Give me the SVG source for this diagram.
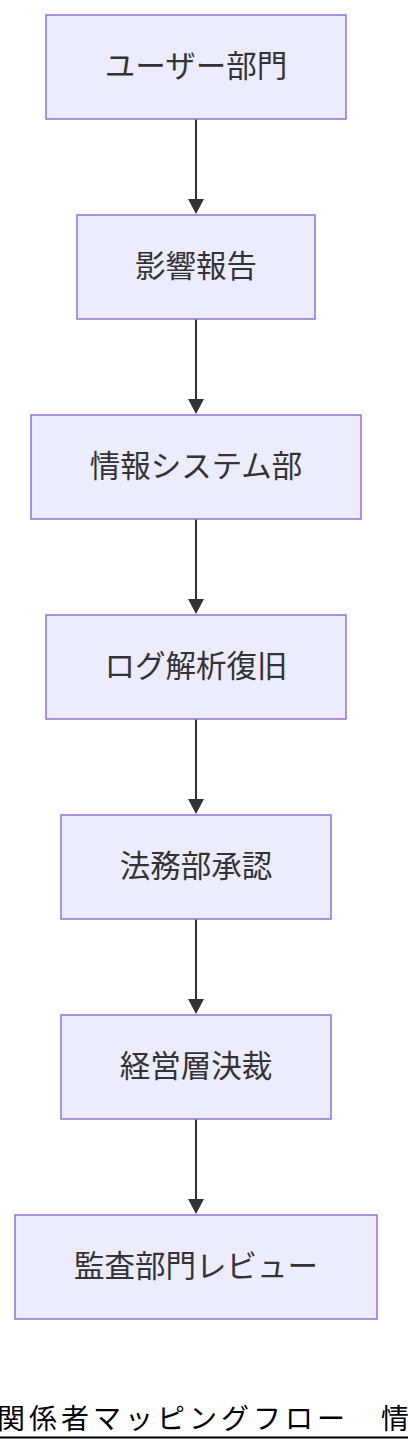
<svg xmlns="http://www.w3.org/2000/svg" width="408" height="1452" viewBox="0 0 408 1452">
<defs>
<style>
.node rect{fill:#ECECFF;stroke:#9370DB;stroke-width:1.5px;}
.node text{font-family:"Noto Sans CJK JP","Noto Sans",sans-serif;font-size:30.5px;fill:#333;text-anchor:middle;}
.edge{stroke:#333;stroke-width:2px;fill:none;}
.title{font-family:"Noto Sans CJK JP",sans-serif;font-size:28px;letter-spacing:4px;fill:#000;}
</style>
<marker id="arrow" viewBox="0 0 15 16" refX="1" refY="8" markerWidth="15" markerHeight="16" markerUnits="userSpaceOnUse" orient="auto">
<path d="M0,0 L15,8 L0,16 z" fill="#333"/>
</marker>
</defs>
<rect width="408" height="1452" fill="#fff"/>
<g id="connectors">
<line class="edge" x1="196" y1="119" x2="196" y2="200" marker-end="url(#arrow)"/>
<line class="edge" x1="196" y1="319" x2="196" y2="400" marker-end="url(#arrow)"/>
<line class="edge" x1="196" y1="519" x2="196" y2="600" marker-end="url(#arrow)"/>
<line class="edge" x1="196" y1="719" x2="196" y2="800" marker-end="url(#arrow)"/>
<line class="edge" x1="196" y1="919" x2="196" y2="1000" marker-end="url(#arrow)"/>
<line class="edge" x1="196" y1="1119" x2="196" y2="1200" marker-end="url(#arrow)"/>
</g>
<g id="n1" class="node"><rect x="46" y="15" width="300" height="104"/><text x="196" y="77">ユーザー部門</text></g>
<g id="n2" class="node"><rect x="77" y="215" width="238" height="104"/><text x="196" y="277">影響報告</text></g>
<g id="n3" class="node"><rect x="31" y="415" width="330" height="104"/><text x="196" y="477">情報システム部</text></g>
<g id="n4" class="node"><rect x="46" y="615" width="300" height="104"/><text x="196" y="677">ログ解析復旧</text></g>
<g id="n5" class="node"><rect x="61" y="815" width="270" height="104"/><text x="196" y="877">法務部承認</text></g>
<g id="n6" class="node"><rect x="61" y="1015" width="270" height="104"/><text x="196" y="1077">経営層決裁</text></g>
<g id="n7" class="node"><rect x="15" y="1215" width="362" height="104"/><text x="196" y="1277">監査部門レビュー</text></g>
<g id="title">
<text class="title" x="-3" y="1429">関係者マッピングフロー　情</text>
<line x1="0" y1="1437.5" x2="408" y2="1437.5" stroke="#000" stroke-width="2"/>
</g>
</svg>
